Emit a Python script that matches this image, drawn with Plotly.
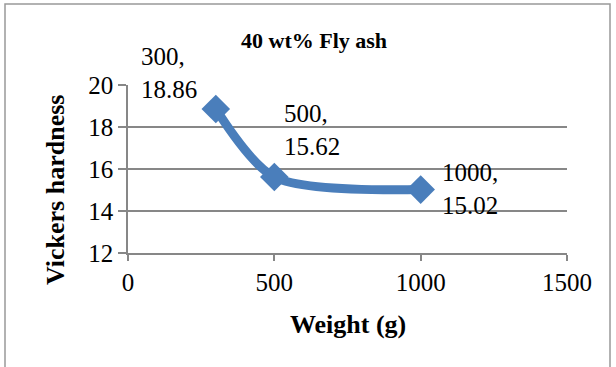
import plotly.graph_objects as go

weights = [300, 500, 1000]
hardness = [18.86, 15.62, 15.02]
label_offsets = [(-47, -36), (38, -47), (49, -1)]

FONT = "Liberation Serif"
BLUE = "#4A7EBB"
GRID = "#878787"

L, R, T, B = 128, 567, 85, 253
PW, PH = R - L, B - T

def px(x):
    return (x - L) / PW

def py(y):
    return (B - y) / PH

fig = go.Figure()
fig.add_trace(go.Scatter(
    x=weights, y=hardness, mode="lines+markers",
    line=dict(color=BLUE, width=9, shape="spline", smoothing=0.8),
    marker=dict(symbol="diamond", size=22, color=BLUE),
    showlegend=False, hoverinfo="skip",
))

for (xv, yv), (dx, dy) in zip(zip(weights, hardness), label_offsets):
    fig.add_annotation(x=xv, y=yv, xref="x", yref="y",
                       text=f"{xv},<br>{yv:.2f}", showarrow=False,
                       xanchor="center", yanchor="middle",
                       xshift=dx, yshift=-dy,
                       font=dict(family=FONT, size=25, color="black"),
                       align="left")

fig.add_annotation(text="<b>40 wt% Fly ash</b>", xref="paper", yref="paper",
                   x=px(314), y=py(40), showarrow=False,
                   xanchor="center", yanchor="middle",
                   font=dict(family=FONT, size=22, color="black"))
fig.add_annotation(text="<b>Weight (g)</b>", xref="paper", yref="paper",
                   x=px(348), y=py(324), showarrow=False,
                   xanchor="center", yanchor="middle",
                   font=dict(family=FONT, size=26, color="black"))
fig.add_annotation(text="<b>Vickers hardness</b>", xref="paper", yref="paper",
                   x=px(55), y=py(190), showarrow=False, textangle=-90,
                   xanchor="center", yanchor="middle",
                   font=dict(family=FONT, size=26, color="black"))

fig.update_layout(
    width=616, height=367,
    margin=dict(l=L, r=616 - R, t=T, b=367 - B),
    paper_bgcolor="white", plot_bgcolor="white",
    font=dict(family=FONT, size=25, color="black"),
    shapes=[dict(type="rect", xref="paper", yref="paper",
                 x0=px(5), x1=px(610), y0=py(400), y1=py(4),
                 line=dict(color="#999999", width=1.5), layer="below")],
)
fig.update_xaxes(range=[0, 1500], tickvals=[0, 500, 1000, 1500],
                 showgrid=False, showline=True, linecolor=GRID, linewidth=1.5,
                 ticks="outside", ticklen=6, tickcolor=GRID, tickwidth=1.5,
                 zeroline=False, fixedrange=True)
fig.update_yaxes(range=[12, 20], tickvals=[12, 14, 16, 18, 20],
                 ticksuffix="\u2005\u2006",
                 showgrid=True, gridcolor=GRID, gridwidth=1.5,
                 showline=True, linecolor=GRID, linewidth=1.5,
                 ticks="outside", ticklen=8, tickcolor=GRID, tickwidth=1.5,
                 zeroline=False, fixedrange=True)

fig.write_html("out.html")
